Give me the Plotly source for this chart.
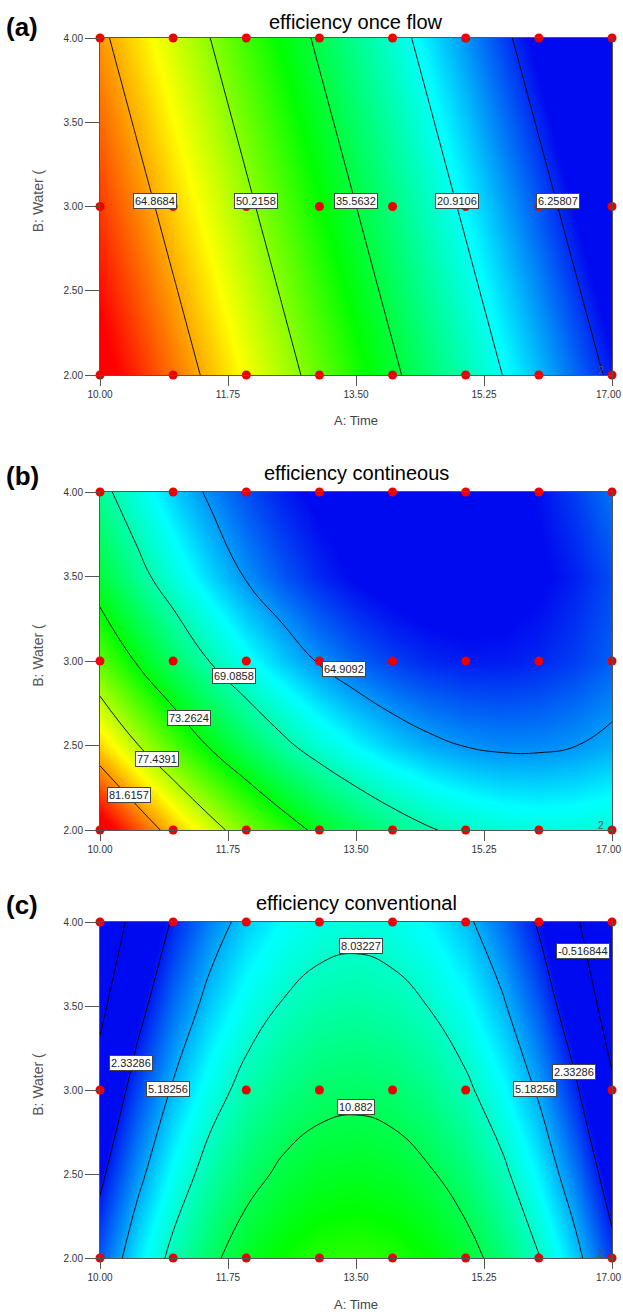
import plotly.graph_objects as go

# ---------------- data ----------------
time_vals = [10.0, 10.5, 11.0, 11.5, 12.0, 12.5, 13.0, 13.5, 14.0, 14.5, 15.0, 15.5, 16.0, 16.5, 17.0]
water_vals = [2.0, 2.5, 3.0, 3.5, 4.0]

eff_once_flow = [
    [79.45, 74.13, 68.81, 63.49, 58.16, 52.84, 47.52, 42.20, 36.88, 31.56, 26.24, 20.92, 15.60, 10.28, 4.96],
    [76.15, 70.83, 65.51, 60.19, 54.87, 49.55, 44.22, 38.90, 33.58, 28.26, 22.94, 17.62, 12.30, 6.98, 1.66],
    [72.85, 67.53, 62.21, 56.89, 51.57, 46.25, 40.93, 35.61, 30.29, 24.96, 19.64, 14.32, 9.00, 3.68, -1.64],
    [69.55, 64.23, 58.91, 53.59, 48.27, 42.95, 37.63, 32.31, 26.99, 21.67, 16.35, 11.02, 5.70, 0.38, -4.94],
    [66.25, 60.93, 55.61, 50.29, 44.97, 39.65, 34.33, 29.01, 23.69, 18.37, 13.05, 7.73, 2.41, -2.91, -8.24],
]
eff_contineous = [
    [86.11, 83.29, 80.70, 78.35, 76.24, 74.37, 72.73, 71.33, 70.17, 69.25, 68.56, 68.11, 67.90, 67.93, 68.19],
    [80.19, 77.58, 75.22, 73.09, 71.20, 69.55, 68.13, 66.96, 66.01, 65.31, 64.85, 64.62, 64.63, 64.88, 65.36],
    [75.48, 73.10, 70.96, 69.05, 67.38, 65.95, 64.76, 63.80, 63.08, 62.60, 62.35, 62.35, 62.58, 63.05, 63.75],
    [72.00, 69.84, 67.92, 66.23, 64.78, 63.57, 62.60, 61.87, 61.37, 61.11, 61.08, 61.30, 61.75, 62.44, 63.36],
    [69.74, 67.80, 66.10, 64.63, 63.41, 62.42, 61.66, 61.15, 60.87, 60.83, 61.03, 61.47, 62.14, 63.05, 64.20],
]
eff_conventional = [
    [3.52, 6.25, 8.55, 10.43, 11.88, 12.91, 13.51, 13.68, 13.42, 12.74, 11.63, 10.09, 8.13, 5.74, 2.92],
    [1.92, 4.63, 6.92, 8.78, 10.22, 11.24, 11.83, 12.00, 11.75, 11.07, 9.97, 8.44, 6.49, 4.12, 1.32],
    [0.41, 3.10, 5.37, 7.22, 8.65, 9.66, 10.24, 10.41, 10.16, 9.49, 8.39, 6.88, 4.95, 2.59, -0.18],
    [-1.02, 1.65, 3.91, 5.74, 7.16, 8.16, 8.74, 8.91, 8.66, 7.99, 6.91, 5.41, 3.49, 1.15, -1.60],
    [-2.35, 0.30, 2.53, 4.35, 5.76, 6.75, 7.33, 7.50, 7.25, 6.59, 5.51, 4.02, 2.12, -0.20, -2.93],
]

levels_once_flow = [6.25807, 20.9106, 35.5632, 50.2158, 64.8684]
levels_contineous = [64.9092, 69.0858, 73.2624, 77.4391, 81.6157]
levels_conventional = [-0.516844, 2.33286, 5.18256, 8.03227, 10.882]

design_time = [10, 11, 12, 13, 14, 15, 16, 17]
design_water = [2, 3, 4]

x_ticks = [10.00, 11.75, 13.50, 15.25, 17.00]
y_ticks = [2.00, 2.50, 3.00, 3.50, 4.00]

titles = ["efficiency once flow", "efficiency contineous", "efficiency conventional"]
panel_tags = ["(a)", "(b)", "(c)"]

# label texts with their positions on the contours (time, water)
labels_once_flow = [("64.8684", 10.75, 3.03), ("50.2158", 12.13, 3.03), ("35.5632", 13.50, 3.03),
                    ("20.9106", 14.88, 3.03), ("6.25807", 16.26, 3.03)]
labels_contineous = [("81.6157", 10.39, 2.21), ("77.4391", 10.78, 2.42), ("73.2624", 11.22, 2.66),
                     ("69.0858", 11.83, 2.91), ("64.9092", 13.33, 2.955)]
labels_conventional = [("8.03227", 13.57, 3.86), ("-0.516844", 16.60, 3.83), ("2.33286", 10.43, 3.16),
                       ("5.18256", 10.93, 3.006), ("10.882", 13.50, 2.90), ("5.18256", 15.95, 3.006),
                       ("2.33286", 16.48, 3.11)]

# ---------------- styling ----------------
colorscale = [[0.0, 'rgb(0,10,240)'], [0.22, 'rgb(0,255,255)'], [0.5, 'rgb(0,255,0)'],
              [0.75, 'rgb(255,255,0)'], [1.0, 'rgb(255,0,0)']]
color_ranges = [(4, 77), (62, 85), (2, 23.5)]

W, H = 623, 1316
x_dom = [100 / W, 612 / W]
px_tops = [38, 492, 922]
px_bots = [375, 830, 1258]
title_px = [22, 473, 903]
tag_px = [27, 476, 905]

FONT = "Liberation Sans, Arial, sans-serif"
TICKFONT = dict(family=FONT, size=10, color='#333')

panels = [
    (eff_once_flow, levels_once_flow, labels_once_flow),
    (eff_contineous, levels_contineous, labels_contineous),
    (eff_conventional, levels_conventional, labels_conventional),
]

# the last x tick label sits at the right page edge; it is drawn as an annotation
x_ticktext = ['%.2f' % v for v in x_ticks[:-1]] + ['']

fig = go.Figure()
annotations = []
layout_axes = {}

for i, (z, lev, labs) in enumerate(panels):
    sfx = '' if i == 0 else str(i + 1)
    xa, ya = 'x' + sfx, 'y' + sfx
    step = (lev[-1] - lev[0]) / (len(lev) - 1)
    zmn, zmx = color_ranges[i]
    fig.add_trace(go.Contour(
        x=time_vals, y=water_vals, z=z, colorscale=colorscale, zmin=zmn, zmax=zmx,
        showscale=False, autocontour=False,
        contours=dict(start=lev[0], end=lev[-1] + step * 0.01, size=step, coloring='heatmap'),
        line=dict(color='black', width=0.9, smoothing=1.3),
        xaxis=xa, yaxis=ya, hoverinfo='skip'))
    dx = [t for w in design_water for t in design_time]
    dy = [w for w in design_water for t in design_time]
    fig.add_trace(go.Scatter(
        x=dx, y=dy, mode='markers', cliponaxis=False,
        marker=dict(color='rgb(235,0,0)', size=9, line=dict(width=0)),
        xaxis=xa, yaxis=ya, hoverinfo='skip', showlegend=False))

    top = 1 - px_tops[i] / H
    bot = 1 - px_bots[i] / H
    layout_axes['xaxis' + sfx] = dict(
        domain=x_dom, anchor=ya, range=[10, 17], tickvals=x_ticks, ticktext=x_ticktext,
        ticks='outside', ticklen=10, tickcolor='#555', showgrid=False, zeroline=False,
        showline=True, linecolor='#555', linewidth=1, mirror=True, automargin=False,
        tickfont=TICKFONT)
    layout_axes['yaxis' + sfx] = dict(
        domain=[bot, top], anchor=xa, range=[2, 4], tickvals=y_ticks, tickformat='.2f',
        ticks='outside', ticklen=14, tickcolor='#555', showgrid=False, zeroline=False,
        showline=True, linecolor='#555', linewidth=1, mirror=True, automargin=False,
        tickfont=TICKFONT)

    # last x tick label, kept inside the page
    annotations.append(dict(text='%.2f' % x_ticks[-1], x=1.0, y=1 - (px_bots[i] + 19) / H,
                            xref='paper', yref='paper', showarrow=False, xanchor='right',
                            yanchor='middle', font=TICKFONT))
    # title
    annotations.append(dict(text=titles[i], x=(x_dom[0] + x_dom[1]) / 2, y=1 - title_px[i] / H,
                            xref='paper', yref='paper', showarrow=False, xanchor='center', yanchor='middle',
                            font=dict(family=FONT, size=20, color='black')))
    annotations.append(dict(text='<b>' + panel_tags[i] + '</b>', x=22 / W, y=1 - tag_px[i] / H,
                            xref='paper', yref='paper', showarrow=False, xanchor='center', yanchor='middle',
                            font=dict(family=FONT, size=26, color='black')))
    # y axis title
    annotations.append(dict(text='B: Water (', x=38 / W, y=(top + bot) / 2 + 0.004,
                            xref='paper', yref='paper', showarrow=False, textangle=-90,
                            xanchor='center', yanchor='middle',
                            font=dict(family=FONT, size=14, color='#555')))
    # x axis title for (a) and (c)
    if i != 1:
        annotations.append(dict(text='A: Time', x=356 / W, y=1 - (px_bots[i] + 46) / H,
                                xref='paper', yref='paper', showarrow=False,
                                xanchor='center', yanchor='middle',
                                font=dict(family=FONT, size=13, color='#444')))
    # replicate marker
    annotations.append(dict(text='2', x=17, y=2, xref=xa, yref=ya, showarrow=False,
                            xshift=-11, yshift=5, font=dict(family=FONT, size=10, color='#555')))
    # contour labels
    for txt, lx, ly in labs:
        annotations.append(dict(text=txt, x=lx, y=ly, xref=xa, yref=ya, showarrow=False,
                                bgcolor='white', bordercolor='#444', borderwidth=1, borderpad=1,
                                font=dict(family=FONT, size=11, color='#222')))

fig.update_layout(width=W, height=H, margin=dict(l=0, r=0, t=0, b=0, autoexpand=False),
                  paper_bgcolor='white', plot_bgcolor='white', showlegend=False,
                  annotations=annotations, **layout_axes)
fig.write_html("out.html")
